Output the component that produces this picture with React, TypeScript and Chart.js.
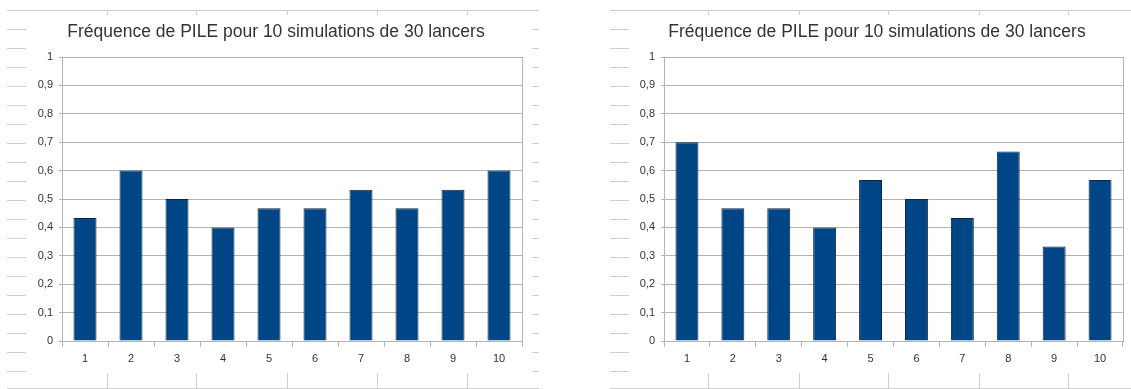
import React, { useEffect, useRef } from "react";
import { Chart, registerables } from "chart.js";

Chart.register(...registerables);

const categories = ["1", "2", "3", "4", "5", "6", "7", "8", "9", "10"];
const pileFreqSimA = [0.433, 0.6, 0.5, 0.4, 0.467, 0.467, 0.533, 0.467, 0.533, 0.6];
const pileFreqSimB = [0.7, 0.467, 0.467, 0.4, 0.567, 0.5, 0.433, 0.667, 0.333, 0.567];
const chartTitle = "Fréquence de PILE pour 10 simulations de 30 lancers";
const yMin = 0;
const yMax = 1;
const yStep = 0.1;

const FONT = "'Liberation Sans', Arial, sans-serif";
const GRID = "#b3b3b3";
const TEXT = "#333333";
const SHEET = "#cfcfcf";

const rightBorder = {
  id: "rightBorder",
  beforeDatasetsDraw(chart: any) {
    const { ctx, chartArea } = chart;
    ctx.save();
    ctx.strokeStyle = GRID;
    ctx.lineWidth = 1;
    const x = Math.round(chartArea.right) + 0.5;
    ctx.beginPath();
    ctx.moveTo(x, chartArea.top);
    ctx.lineTo(x, chartArea.bottom);
    ctx.stroke();
    ctx.restore();
  },
};

function fmt(v: number) {
  const r = Math.round(v * 10) / 10;
  return String(r).replace(".", ",");
}

function BarChart(props: { values: number[]; left: number; width: number; axisWidth: number; padRight: number }) {
  const ref = useRef<HTMLCanvasElement | null>(null);
  useEffect(() => {
    if (!ref.current) return;
    const chart = new Chart(ref.current, {
      type: "bar",
      data: {
        labels: categories,
        datasets: [
          {
            data: props.values,
            backgroundColor: "#004586",
            borderColor: "#0b2642",
            borderWidth: 1,
            barPercentage: 0.5,
            categoryPercentage: 1,
          },
        ],
      },
      options: {
        responsive: false,
        animation: false,
        devicePixelRatio: 1,
        layout: { padding: { left: 0, right: props.padRight, top: 0, bottom: 0 } },
        plugins: {
          legend: { display: false },
          tooltip: { enabled: false },
          title: {
            display: true,
            text: chartTitle,
            color: TEXT,
            font: { family: FONT, size: 17.5, weight: "normal", lineHeight: 1.2 },
            padding: { top: 22, bottom: 14 },
          },
        },
        scales: {
          x: {
            grid: {
              display: true,
              drawOnChartArea: false,
              drawTicks: true,
              tickLength: 6,
              color: GRID,
              offset: true,
            },
            border: { display: true, color: GRID },
            ticks: { color: TEXT, font: { family: FONT, size: 11 }, padding: 5, maxRotation: 0 },
            afterFit: (scale: any) => {
              scale.height = 48;
            },
          },
          y: {
            min: yMin,
            max: yMax,
            grid: { color: GRID, drawTicks: true, tickLength: 3 },
            border: { display: true, color: GRID },
            ticks: {
              stepSize: yStep,
              color: TEXT,
              font: { family: FONT, size: 11 },
              padding: 6,
              callback: (v: any) => fmt(Number(v)),
            },
            afterFit: (scale: any) => {
              scale.width = props.axisWidth;
            },
          },
        },
      },
      plugins: [rightBorder],
    } as any);
    return () => chart.destroy();
  }, []);
  return (
    <canvas
      ref={ref}
      width={props.width}
      height={389}
      style={{ position: "absolute", left: props.left, top: 0, width: props.width, height: 389 }}
    />
  );
}

function SheetLines(props: { x0: number; x1: number; cols: number[]; rightDash?: boolean }) {
  const items: any[] = [];
  items.push(<div key="t" style={{ position: "absolute", left: props.x0, top: 10, width: props.x1 - props.x0, height: 1, background: SHEET }} />);
  items.push(<div key="b" style={{ position: "absolute", left: props.x0, top: 388, width: props.x1 - props.x0, height: 1, background: SHEET }} />);
  props.cols.forEach((c, i) => {
    items.push(<div key={"ct" + i} style={{ position: "absolute", left: c, top: 10, width: 1, height: 5, background: SHEET }} />);
    items.push(<div key={"cb" + i} style={{ position: "absolute", left: c, top: 373, width: 1, height: 15, background: SHEET }} />);
  });
  for (let k = 0; k < 19; k++) {
    const y = 29 + Math.round(k * 19);
    items.push(<div key={"l" + k} style={{ position: "absolute", left: props.x0, top: y, width: 19, height: 1, background: SHEET }} />);
    if (props.rightDash) {
      items.push(<div key={"r" + k} style={{ position: "absolute", left: props.x1 - 7, top: y, width: 7, height: 1, background: SHEET }} />);
    }
  }
  return <>{items}</>;
}

export default function App() {
  return (
    <div style={{ position: "absolute", left: 0, top: 0, width: 1131, height: 389, background: "#ffffff", overflow: "hidden" }}>
      <SheetLines x0={7} x1={539} cols={[107, 196, 287, 377, 467]} rightDash />
      <SheetLines x0={610} x1={1131} cols={[708, 799, 888, 979, 1068]} />
      <BarChart values={pileFreqSimA} left={30} width={498} axisWidth={32} padRight={6} />
      <BarChart values={pileFreqSimB} left={631} width={498} axisWidth={33} padRight={6} />
    </div>
  );
}
